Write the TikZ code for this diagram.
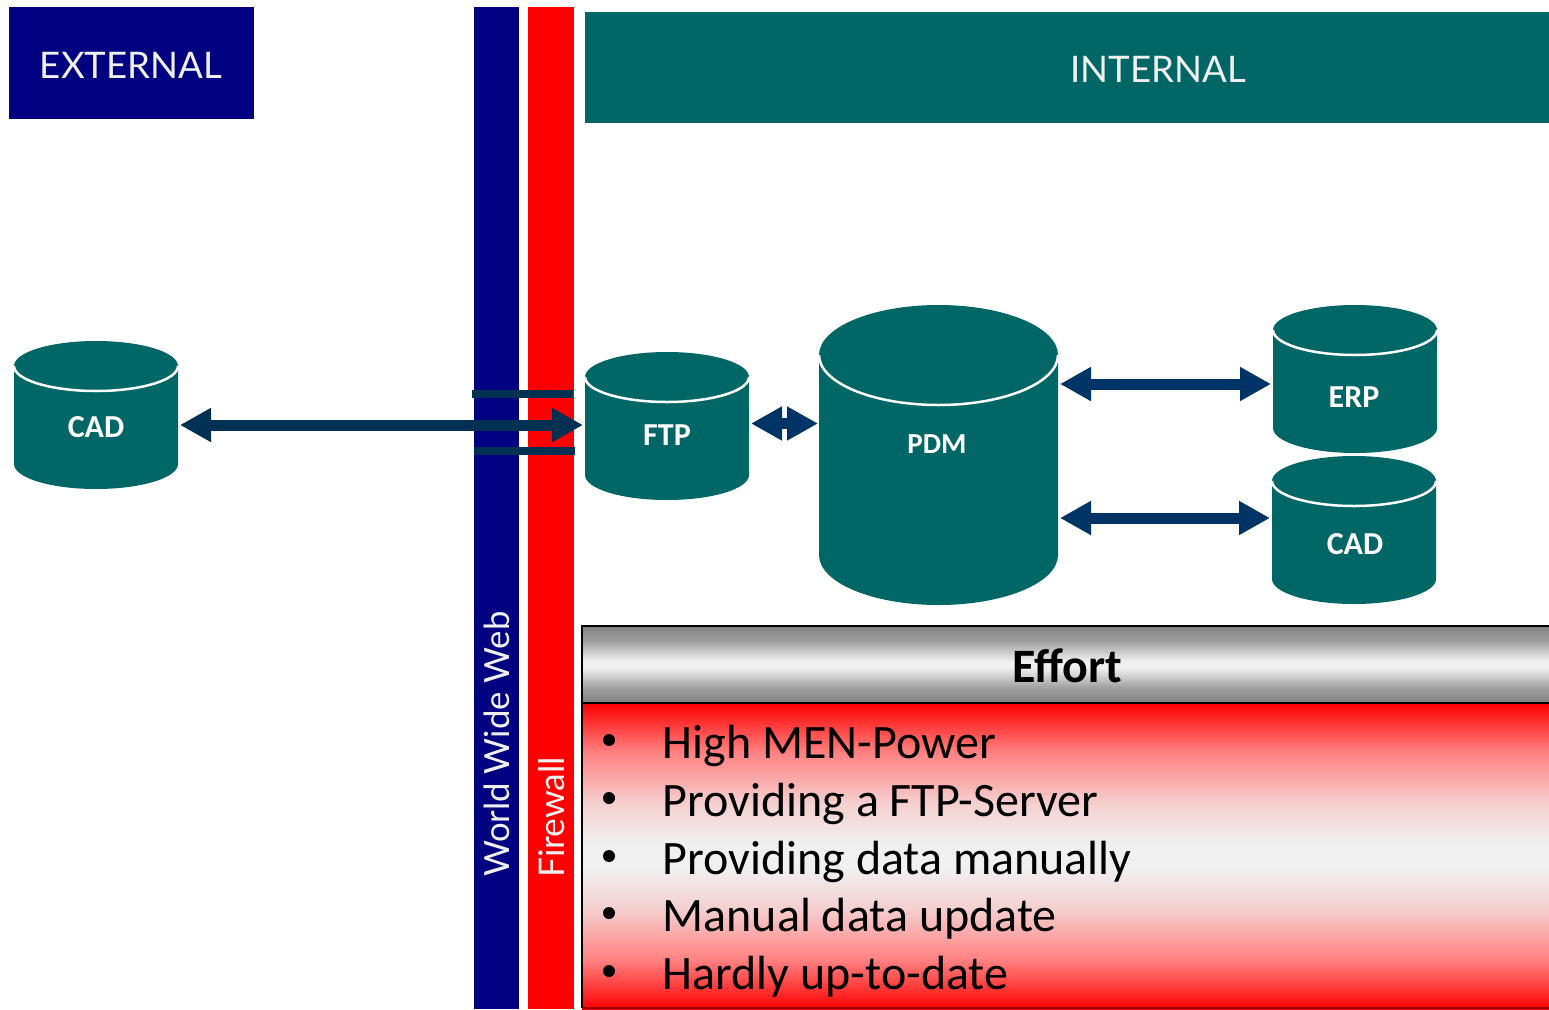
\documentclass[tikz,border=0pt]{standalone}
\usepackage{fontspec}
\setmainfont{Carlito}
\newfontfamily\gill{Lato}
\usetikzlibrary{arrows.meta,calc}
\definecolor{teal1}{HTML}{006666}
\definecolor{navy1}{HTML}{000080}
\definecolor{arrowA}{HTML}{003153}
\definecolor{arrowB}{HTML}{003366}
\definecolor{soft}{HTML}{F0F0F0}
\newcommand{\fs}[1]{\fontsize{#1}{#1}\selectfont}
\pgfdeclareverticalshading{redband}{100bp}{
  color(0bp)=(red);
  color(25bp)=(red);
  color(33bp)=(rgb,255:red,255;green,128;blue,128);
  color(41.5bp)=(rgb,255:red,245;green,208;blue,208);
  color(48bp)=(soft);
  color(52bp)=(soft);
  color(58.5bp)=(rgb,255:red,245;green,208;blue,208);
  color(67bp)=(rgb,255:red,255;green,128;blue,128);
  color(75bp)=(red);
  color(100bp)=(red)}
\pgfdeclareverticalshading{greyband}{100bp}{
  color(0bp)=(rgb,255:red,128;green,128;blue,128);
  color(25bp)=(rgb,255:red,128;green,128;blue,128);
  color(35bp)=(rgb,255:red,160;green,160;blue,160);
  color(42.5bp)=(rgb,255:red,208;green,208;blue,208);
  color(48bp)=(soft);
  color(52bp)=(soft);
  color(57.5bp)=(rgb,255:red,208;green,208;blue,208);
  color(65bp)=(rgb,255:red,160;green,160;blue,160);
  color(75bp)=(rgb,255:red,128;green,128;blue,128);
  color(100bp)=(rgb,255:red,128;green,128;blue,128)}
\tikzset{
  headtext/.style={text=soft,font=\gill\fs{36.6}},
  sidetext/.style={text=soft,font=\gill\fs{34.7},rotate=90,anchor=west,inner sep=0pt},
  cyllabel/.style={text=white,font=\bfseries\fs{32}},
  linkA/.style={draw=arrowA,line width=11pt,{Triangle[width=32pt,length=31pt]}-{Triangle[width=32pt,length=31pt]}},
  linkB/.style={draw=arrowB,line width=11pt,{Triangle[width=32pt,length=31pt]}-{Triangle[width=32pt,length=31pt]}},
  bar/.style={fill=arrowA,draw=none},
  item/.style={anchor=base west,inner sep=0pt,font=\fs{48}},
  bull/.style={anchor=center,circle,fill=black,inner sep=0pt,minimum size=12pt},
}
% name, left, top, right, bottom, ry
\newcommand{\cylinder}[6]{%
  \path[fill=teal1] (#2,{#3+#6}) arc[start angle=180,end angle=360,x radius={(#4-#2)/2},y radius=#6]
     -- (#4,{#5-#6}) arc[start angle=0,end angle=180,x radius={(#4-#2)/2},y radius=#6] -- cycle;
  \draw[white,line width=2.5pt] (#2,{#3+#6}) arc[start angle=180,end angle=0,x radius={(#4-#2)/2},y radius=#6];
  \node[inner sep=0pt,outer sep=0pt,minimum width={(#4-#2)*1pt},minimum height={(#5-#3)*1pt}] (#1) at ({(#2+#4)/2},{(#3+#5)/2}) {};
}
\begin{document}
\begin{tikzpicture}[x=1pt,y=-1pt]
\useasboundingbox (0,0) rectangle (1549,1009);
\fill[white] (0,0) rectangle (1549,1009);
% headers
\fill[navy1] (9,7) rectangle (254,119);
\node[headtext] (external) at (131,65) {EXTERNAL};
\fill[teal1] (585,12) rectangle (1549,123);
\node[headtext] (internal) at (1158,69) {INTERNAL};
% bands
\fill[navy1] (474,7) rectangle (519,1009);
\fill[red] (528,7) rectangle (574,1009);
\node[sidetext] (www) at (497,877) {World Wide Web};
\node[sidetext,font=\gill\fs{35.4}] (fw) at (552,878) {Firewall};
\fill[bar] (472,390) rectangle (573,398);
\fill[bar] (474,447) rectangle (575,455);
% cylinders
\cylinder{cadext}{14}{341}{178}{489}{25}
\cylinder{ftp}{585}{352}{749}{500}{25}
\cylinder{pdm}{819}{305}{1058}{605}{50}
\cylinder{erp}{1273}{305}{1437}{453}{25}
\cylinder{cadint}{1272}{456}{1436}{604}{25}
\node[cyllabel] (lcadext) at (96,427) {CAD};
\node[cyllabel] (lftp) at (667,435) {FTP};
\node[cyllabel,font=\bfseries\fs{29}] (lpdm) at (937,444) {PDM};
\node[cyllabel] (lerp) at (1354,397) {ERP};
\node[cyllabel] (lcadint) at (1355,544) {CAD};
% connectors
\draw[linkA] ([shift={(2,10)}]cadext.east) -- ([shift={(-2,-1)}]ftp.west);
\draw[linkB] ([shift={(2,-2.5)}]ftp.east) -- ([shift={(-1,-31.5)}]pdm.west);
\draw[linkB] ([shift={(2,-71)}]pdm.east) -- ([shift={(-2,5)}]erp.west);
\draw[linkB] ([shift={(2,63)}]pdm.east) -- ([shift={(-2,-12)}]cadint.west);
% table
\shade[shading=greyband] (582,626) rectangle (1549,703);
\shade[shading=redband] (582,703) rectangle (1549,1009);
\draw[black,line width=2.5pt] (1549,626) -- (582,626) -- (582,1008);
\draw[black,line width=2.5pt] (582,703) -- (1549,703);
\draw[red!60!black,line width=2pt] (582,1008) -- (1549,1008);
\node[font=\bfseries\fs{48},inner sep=0pt] (effort) at (1067,666) {Effort};
\foreach \n/\y/\t in {a/758/High MEN-Power,b/816/Providing a FTP-Server,c/874/Providing data manually,d/931/Manual data update,e/989/Hardly up-to-date}{
  \node[item] (t\n) at (662.5,\y) {\t};
  \node[bull] (b\n) at (609,\y-18) {};
}
\end{tikzpicture}
\end{document}
